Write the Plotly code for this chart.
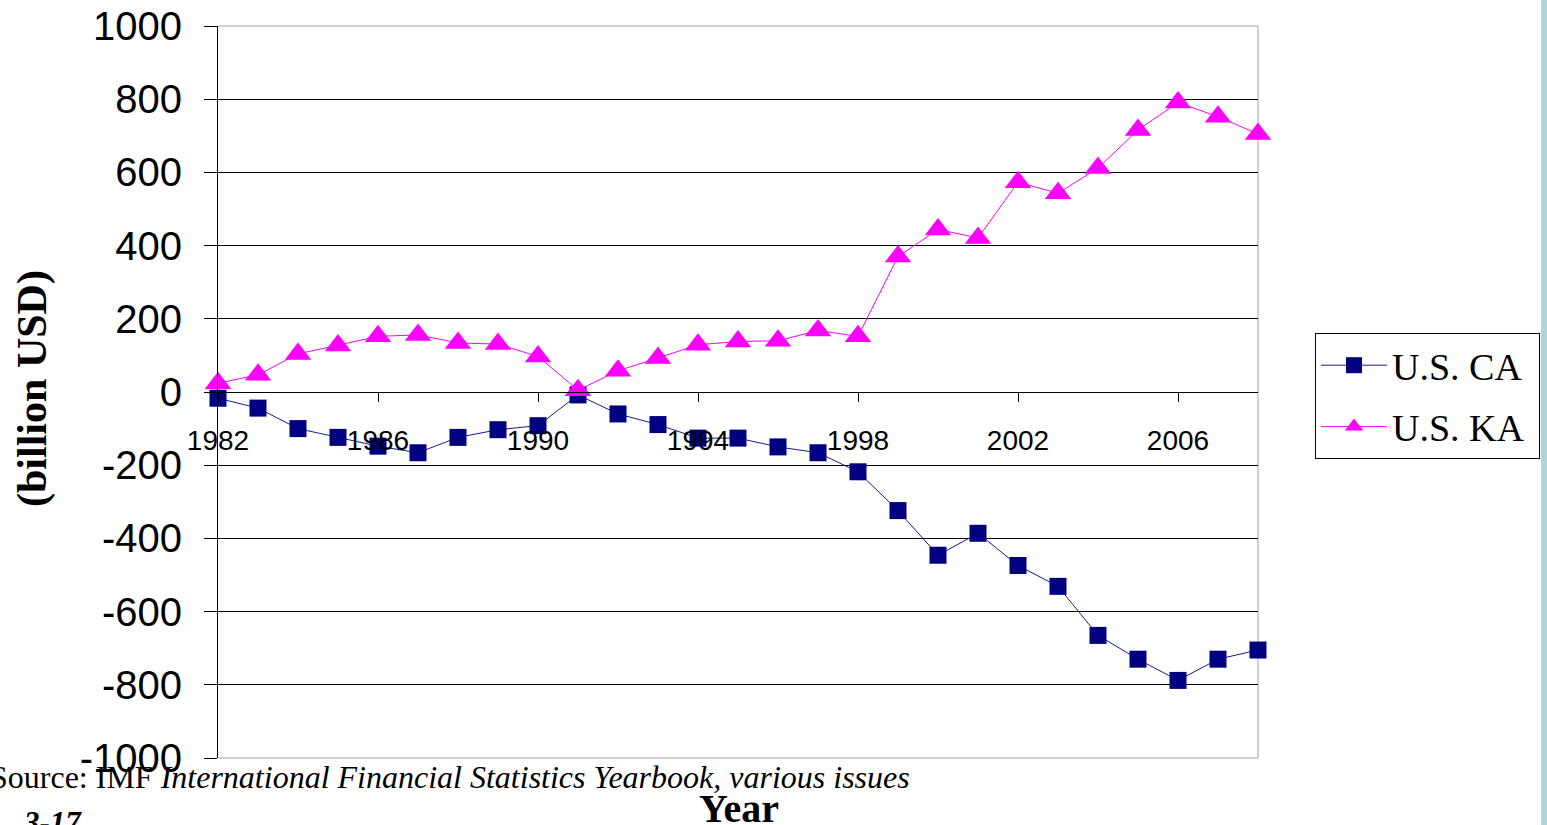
import plotly.graph_objects as go

years = list(range(1982, 2009))
us_ca = [-17, -44, -100, -124, -148, -166, -124, -103, -92, -8, -60, -89, -126, -126,
         -150, -166, -218, -324, -446, -386, -474, -531, -665, -730, -788, -730, -705]
us_ka = [24, 47, 104, 127, 152, 156, 134, 131, 97, 5, 58, 93, 129, 138,
         140, 168, 152, 370, 444, 421, 573, 543, 612, 716, 791, 752, 705]
x_ticks = [1982, 1986, 1990, 1994, 1998, 2002, 2006]
y_ticks = list(range(-1000, 1001, 200))

W, H = 1547, 825
L, R, T, B = 218, 1258, 26, 758
pw, ph = R - L, B - T

def px(x):
    return (x - L) / pw

def py(y):
    return (B - y) / ph

fig = go.Figure()
fig.add_trace(go.Scatter(
    x=years, y=us_ca, name="U.S. CA\u00a0", mode="lines+markers", legendgroup="ca",
    line=dict(color="#1a1a8c", width=1),
    marker=dict(symbol="square", size=17, color="#000080"),
    cliponaxis=False))
fig.add_trace(go.Scatter(
    x=years, y=us_ka, name="U.S. KA\u00a0", mode="lines+markers", legendgroup="ka",
    line=dict(color="#FF00FF", width=1),
    marker=dict(symbol="triangle-up", size=23, color="#FF00FF"),
    cliponaxis=False))

fig.update_layout(
    width=W, height=H,
    margin=dict(l=L, r=W - R, t=T, b=H - B, pad=0, autoexpand=False),
    paper_bgcolor="white", plot_bgcolor="white",
    showlegend=True,
    legend=dict(x=px(1315), y=py(333), xanchor="left", yanchor="top",
                bordercolor="black", borderwidth=1, bgcolor="white",
                font=dict(family="Liberation Serif", size=38, color="black"),
                tracegroupgap=9, itemwidth=66),
    xaxis=dict(range=[1982, 2008], tickvals=x_ticks, ticktext=[str(v) for v in x_ticks],
               anchor="free", position=0.5, showgrid=False, zeroline=False,
               showline=True, linecolor="black", linewidth=1, automargin=False,
               ticks="outside", ticklen=9, tickcolor="black",
               ticklabelstandoff=14,
               tickfont=dict(family="Liberation Sans", size=28, color="black")),
    yaxis=dict(range=[-1000, 1000], tickvals=y_ticks, ticktext=[str(v) for v in y_ticks],
               showgrid=True, gridcolor="black", gridwidth=1, automargin=False,
               zeroline=True, zerolinecolor="black", zerolinewidth=1,
               showline=True, linecolor="black", linewidth=1,
               ticks="outside", ticklen=13, tickcolor="black",
               ticklabelstandoff=14,
               tickfont=dict(family="Liberation Sans", size=40, color="black")),
    shapes=[
        dict(type="line", xref="paper", yref="paper", x0=0, x1=1, y0=1, y1=1,
             line=dict(color="#a0a0a0", width=1), layer="above"),
        dict(type="line", xref="paper", yref="paper", x0=0, x1=1, y0=0, y1=0,
             line=dict(color="#a0a0a0", width=1), layer="above"),
        dict(type="line", xref="paper", yref="paper", x0=1, x1=1, y0=0, y1=1,
             line=dict(color="#a0a0a0", width=1), layer="below"),
        dict(type="rect", xref="paper", yref="paper", x0=px(1541), x1=px(1560),
             y0=py(900), y1=py(-50), fillcolor="#b3d2e1", line=dict(width=0)),
    ],
    annotations=[
        dict(text="<b>(billion USD)</b>", textangle=-90, xref="paper", yref="paper",
             x=px(32), y=py(389), xanchor="center", yanchor="middle", showarrow=False,
             font=dict(family="Liberation Serif", size=42, color="black")),
        dict(text="<b>Year</b>", xref="paper", yref="paper",
             x=px(739), y=py(808), xanchor="center", yanchor="middle", showarrow=False,
             font=dict(family="Liberation Serif", size=40, color="black")),
        dict(text="Source: IMF <i>International Financial Statistics Yearbook, various issues</i>",
             xref="paper", yref="paper", x=px(-12), y=py(777), xanchor="left", yanchor="middle",
             showarrow=False, font=dict(family="Liberation Serif", size=32, color="black")),
        dict(text="<b><i>3-17</i></b>", xref="paper", yref="paper",
             x=px(21), y=py(822), xanchor="left", yanchor="middle", showarrow=False,
             font=dict(family="Liberation Serif", size=31, color="black")),
    ],
)

fig.write_html("out.html", config={"displayModeBar": False},
               post_script="document.body.style.margin='0';document.body.style.overflow='hidden';")
